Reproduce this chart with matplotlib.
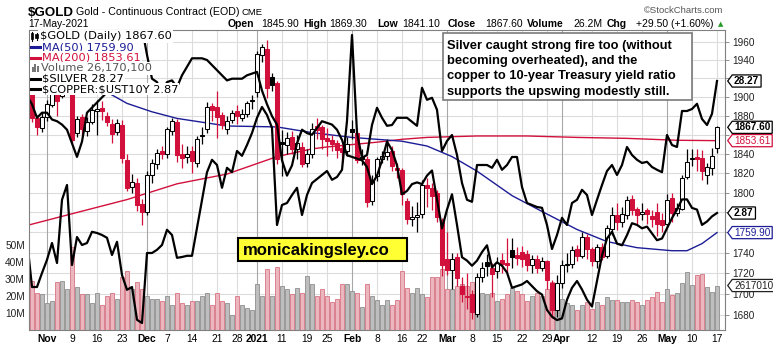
import matplotlib
matplotlib.use('Agg')
import matplotlib.pyplot as plt
from matplotlib.lines import Line2D
from matplotlib.patches import Rectangle
from matplotlib.path import Path
from matplotlib.ticker import FixedLocator, NullLocator, FuncFormatter
import numpy as np

# ---- $GOLD daily bars, 27-Oct-2020 .. 17-May-2021 ----
prior_close = 1902.0
opens = [1903, 1906, 1877, 1867, 1878, 1891, 1906, 1901, 1946, 1956,
         1862, 1879, 1864, 1873, 1885, 1888, 1880, 1871, 1863, 1870,
         1833, 1806, 1810, 1789, 1780, 1818, 1829, 1843, 1840, 1864,
         1873, 1840, 1837, 1843, 1830, 1859, 1866, 1890, 1889, 1881,
         1866, 1875, 1885, 1877, 1882, 1897, 1905, 1945, 1952, 1921,
         1915, 1852, 1849, 1857, 1845, 1847, 1830, 1840, 1869, 1868,
         1856, 1854, 1851, 1846, 1843, 1866, 1862, 1837, 1834, 1792,
         1817, 1834, 1838, 1843, 1825, 1823, 1792, 1773, 1775, 1778,
         1808, 1805, 1800, 1772, 1734, 1723, 1736, 1708, 1697, 1700,
         1681, 1716, 1731, 1725, 1722, 1733, 1730, 1743, 1738, 1741,
         1739, 1728, 1734, 1725, 1732, 1711, 1685, 1711, 1728, 1729,
         1744, 1737, 1756, 1744, 1732, 1746, 1737, 1763, 1777, 1770,
         1777, 1794, 1783, 1778, 1782, 1776, 1780, 1772, 1768, 1795,
         1779, 1783, 1816, 1834, 1836, 1836, 1818, 1825, 1845.9]
highs = [1912, 1910, 1881, 1884, 1897, 1913, 1915, 1950, 1965, 1966,
         1880, 1882, 1878, 1892, 1897, 1896, 1884, 1876, 1876, 1875,
         1840, 1819, 1815, 1794, 1822, 1834, 1845, 1848, 1868, 1877,
         1876, 1850, 1848, 1848, 1858, 1868, 1894, 1893, 1906, 1884,
         1880, 1886, 1891, 1887, 1895, 1902, 1950, 1958, 1962, 1926,
         1917, 1865, 1863, 1864, 1860, 1852, 1845, 1872, 1877, 1870,
         1867, 1860, 1854, 1850, 1857, 1875, 1864, 1845, 1838, 1818,
         1837, 1843, 1855, 1848, 1830, 1825, 1795, 1787, 1791, 1813,
         1815, 1810, 1803, 1774, 1760, 1740, 1740, 1716, 1720, 1704,
         1720, 1731, 1739, 1730, 1736, 1740, 1755, 1755, 1746, 1747,
         1743, 1738, 1738, 1736, 1733, 1713, 1718, 1733, 1740, 1747,
         1748, 1760, 1759, 1746, 1749, 1750, 1767, 1786, 1790, 1785,
         1797, 1798, 1785, 1790, 1784, 1782, 1790, 1779, 1799, 1800,
         1790, 1818, 1845, 1845, 1845, 1844, 1830, 1846, 1869.3]
lows = [1895, 1873, 1859, 1863, 1874, 1889, 1880, 1899, 1935, 1850,
        1857, 1858, 1858, 1871, 1860, 1875, 1869, 1851, 1860, 1830,
        1802, 1800, 1781, 1767, 1777, 1810, 1824, 1834, 1836, 1860,
        1831, 1825, 1830, 1820, 1826, 1850, 1862, 1874, 1856, 1866,
        1861, 1872, 1871, 1874, 1879, 1887, 1900, 1938, 1899, 1906,
        1829, 1817, 1840, 1840, 1835, 1826, 1826, 1836, 1855, 1845,
        1838, 1843, 1836, 1830, 1838, 1855, 1830, 1828, 1785, 1788,
        1812, 1830, 1833, 1822, 1815, 1788, 1768, 1766, 1760, 1774,
        1785, 1782, 1770, 1717, 1718, 1705, 1708, 1692, 1686, 1676,
        1678, 1712, 1717, 1697, 1715, 1720, 1720, 1725, 1728, 1726,
        1722, 1720, 1720, 1722, 1705, 1677, 1678, 1706, 1721, 1725,
        1732, 1735, 1734, 1727, 1725, 1733, 1735, 1758, 1762, 1765,
        1773, 1777, 1768, 1772, 1768, 1765, 1757, 1760, 1765, 1770,
        1776, 1782, 1814, 1827, 1822, 1813, 1809, 1818, 1841.1]
closes = [1908, 1877, 1868, 1879, 1892, 1910, 1896, 1946, 1951, 1854,
          1876, 1866, 1873, 1886, 1887, 1885, 1873, 1861, 1872, 1836,
          1805, 1811, 1788, 1780, 1818, 1830, 1841, 1840, 1866, 1874,
          1839, 1836, 1840, 1832, 1855, 1858, 1889, 1886, 1878, 1870,
          1874, 1883, 1880, 1882, 1893, 1895, 1946, 1954, 1909, 1913,
          1835, 1850, 1856, 1845, 1851, 1829, 1840, 1866, 1865, 1855,
          1853, 1850, 1844, 1842, 1850, 1863, 1833, 1835, 1791, 1813,
          1834, 1838, 1842, 1827, 1823, 1799, 1773, 1775, 1777, 1808,
          1805, 1797, 1775, 1728, 1723, 1734, 1715, 1700, 1698, 1683,
          1716, 1725, 1727, 1719, 1730, 1729, 1728, 1736, 1735, 1734,
          1728, 1734, 1725, 1732, 1713, 1685, 1711, 1728, 1729, 1743,
          1737, 1756, 1744, 1732, 1746, 1736, 1764, 1777, 1770, 1778,
          1793, 1782, 1777, 1780, 1778, 1773, 1768, 1767, 1793, 1779,
          1784, 1815, 1831, 1836, 1835, 1822, 1826, 1838, 1867.6]
volume_m = [15, 29, 22, 21, 16, 17, 28.5, 29, 24, 49,
            25.5, 21, 21, 16, 22, 15, 20, 22, 18, 31,
            35, 24, 28, 24, 20, 18, 18, 17, 20, 15,
            22, 16, 15, 17, 17, 20, 22, 15, 22, 17,
            16, 9, 20, 15, 13, 12, 27, 20, 36, 20,
            37, 26, 24, 21, 25, 22, 32, 27, 20, 24,
            20, 16.5, 18.5, 27, 27, 23, 22, 13.5, 27, 20,
            17.5, 14.6, 17.5, 14.6, 17.5, 35, 25, 22, 25, 21,
            19.5, 31, 31, 36, 24, 24, 26, 27, 26, 28,
            22, 22, 21, 22, 17, 18, 21, 25, 23, 21,
            17, 20, 22, 20, 24, 28, 15, 18, 16, 14.6,
            11.7, 14.6, 16.6, 12.6, 16.6, 14.6, 19.5, 17.5, 17.5, 16.6,
            16.6, 17.5, 16.6, 14.6, 17.5, 19.5, 22.5, 16.6, 24.4, 20.5,
            21.5, 27.4, 34.2, 26.4, 32.3, 33.2, 25.4, 22.5, 26.1701]

# ---- overlays ----
silver = [24.30, 23.12, 23.12, 23.47, 23.80, 24.22, 23.72, 25.30, 25.67, 23.67,
          24.37, 24.17, 24.22, 24.50, 24.47, 24.42, 24.35, 23.92, 24.25, 23.42,
          23.05, 23.12, 22.30, 22.22, 23.97, 23.97, 24.05, 24.17, 24.55, 24.42,
          23.85, 23.87, 23.90, 23.90, 24.60, 25.30, 25.99, 26.30, 26.17, 25.60,
          26.10, 25.99, 26.52, 26.40, 26.67, 26.97, 27.35, 27.62, 27.42, 27.10,
          24.67, 25.17, 25.22, 25.42, 25.60, 24.92, 25.42, 25.72, 25.82, 25.92,
          26.02, 25.80, 25.87, 26.05, 27.27, 29.42, 26.97, 26.35, 26.42, 27.17,
          27.60, 27.35, 27.15, 27.17, 27.35, 27.35, 27.35, 27.25, 27.15, 28.10,
          27.80, 27.85, 27.55, 26.52, 26.77, 26.92, 26.42, 25.72, 25.30, 25.25,
          26.17, 26.17, 26.17, 26.10, 26.30, 26.05, 26.17, 26.37, 26.37, 25.62,
          25.22, 25.17, 25.12, 25.10, 24.67, 24.07, 24.42, 24.85, 24.67, 25.22,
          25.30, 25.55, 25.42, 24.92, 25.30, 25.67, 26.02, 26.17, 25.92, 26.17,
          26.62, 26.42, 26.30, 26.22, 26.25, 26.12, 26.05, 25.99, 26.92, 26.67,
          26.62, 27.52, 27.52, 27.57, 27.70, 27.32, 27.17, 27.45, 28.27]
copper_ust10y = [3.56, 3.51, 3.43, 3.46, 3.46, 3.42, 3.41, 3.39, 3.36, 3.28,
                 3.20, 3.29, 3.46, 3.49, 3.52, 3.55, 3.58, 3.70, 3.77, 3.83,
                 3.88, 3.95, 3.97, 3.96, 3.80, 3.66, 3.64, 3.58, 3.64, 3.65,
                 3.61, 3.68, 3.73, 3.78, 3.78, 3.78, 3.77, 3.74, 3.71, 3.68,
                 3.65, 3.66, 3.66, 3.66, 3.68, 3.69, 3.70, 3.59, 3.51, 3.44,
                 3.39, 3.18, 3.09, 3.15, 3.28, 3.36, 3.34, 3.33, 3.37, 3.41,
                 3.40, 3.39, 3.36, 3.30, 3.21, 3.20, 3.19, 3.18, 3.14, 3.04,
                 3.09, 3.18, 3.29, 3.24, 3.15, 2.98, 3.00, 3.04, 3.05, 3.04,
                 3.09, 3.12, 2.95, 2.78, 2.89, 2.98, 2.80, 2.61, 2.59, 2.56,
                 2.59, 2.64, 2.68, 2.55, 2.58, 2.56, 2.52, 2.43, 2.44, 2.45,
                 2.47, 2.44, 2.41, 2.39, 2.30, 2.26, 2.24, 2.25, 2.36, 2.43,
                 2.47, 2.42, 2.36, 2.32, 2.47, 2.62, 2.72, 2.76, 2.69, 2.68,
                 2.74, 2.81, 2.80, 2.78, 2.79, 2.75, 2.71, 2.72, 2.78, 2.84,
                 2.89, 2.95, 2.95, 2.90, 2.89, 2.80, 2.82, 2.85, 2.87]

ma50_day = [0, 10, 16, 20, 25, 30, 40, 50, 57, 65, 75, 80, 85, 90, 97, 103,
            110, 116, 122, 129, 132, 135, 138]
ma50 = [1918, 1913, 1905, 1893, 1884, 1877, 1869, 1868, 1862, 1857, 1853,
        1848, 1837, 1822, 1797, 1781, 1763, 1751, 1745, 1742, 1742, 1749, 1759.90]
ma200_day = [0, 10, 20, 25, 30, 40, 50, 57, 60, 70, 75, 80, 90, 100, 110,
             120, 130, 138]
ma200 = [1767, 1780, 1793, 1801, 1809, 1819, 1837, 1845, 1847, 1852, 1855,
         1857, 1858.5, 1858.5, 1857, 1856, 1854, 1853.61]

tick_day = [4, 9, 14, 19, 24, 28, 33, 38, 42, 46, 51, 56, 60, 65, 70, 75, 79,
            84, 89, 94, 99, 104, 107, 113, 118, 123, 128, 133, 138]
tick_text = ['Nov', '9', '16', '23', 'Dec', '7', '14', '21', '28', '2021', '11',
             '19', '25', 'Feb', '8', '16', '22', 'Mar', '8', '15', '22', '29',
             'Apr', '12', '19', '26', 'May', '10', '17']
month_text = {'Nov', 'Dec', '2021', 'Feb', 'Mar', 'Apr', 'May'}
price_ticks = list(range(1680, 1961, 20))
hidden_price_labels = {1920, 1860, 1780, 1760}   # sit under the value tags
vol_ticks = [10, 20, 30, 40, 50]

RED = '#d2103c'
NAVY = '#1c1c96'
SANS = 'Liberation Sans'

W, H = 773, 346
fig = plt.figure(figsize=(W / 100, H / 100), dpi=100)
fig.patch.set_facecolor('white')


def fx(px):
    return px / W


def fy(py):
    return 1 - py / H


rect = [fx(29), fy(330), fx(725) - fx(29), fy(30) - fy(330)]
XLIM = (0.4, 139.6)
PRICE_LIM = (1665.8, 1973.0)

# base axes: grid and price scale on the right
ax = fig.add_axes(rect)
ax.set_yscale('log')
ax.set_ylim(*PRICE_LIM)
ax.set_xlim(*XLIM)
ax.yaxis.set_major_locator(FixedLocator(price_ticks))
ax.yaxis.set_minor_locator(NullLocator())
ax.yaxis.set_major_formatter(FuncFormatter(
    lambda v, _: '' if round(v) in hidden_price_labels else f'{v:.0f}'))
ax.yaxis.tick_right()
ax.tick_params(axis='y', length=3, width=0.6, color='#808080', pad=2,
               labelsize=7.2, labelcolor='#222222', labelfontfamily=SANS)
ax.set_xticks(tick_day)
ax.set_xticklabels(tick_text)
ax.tick_params(axis='x', length=0, pad=3, labelsize=7.4, labelfontfamily=SANS)
for lbl in ax.get_xticklabels():
    if lbl.get_text() in month_text:
        lbl.set_fontweight('bold')
for s in ax.spines.values():
    s.set_visible(False)
for p in price_ticks:
    ax.axhline(p, color='#dcdcdc', lw=0.8, zorder=0)
for d, t in zip(tick_day, tick_text):
    ax.axvline(d, color='#a8a8a8' if t in month_text else '#dcdcdc', lw=0.8, zorder=0)


def layer():
    a = fig.add_axes(rect, sharex=ax)
    a.patch.set_visible(False)
    for s in a.spines.values():
        s.set_visible(False)
    a.tick_params(left=False, right=False, bottom=False, top=False,
                  labelleft=False, labelright=False, labelbottom=False)
    return a


x = np.arange(len(closes))
o = np.array(opens, float)
hi = np.array(highs, float)
lo = np.array(lows, float)
c = np.array(closes, float)
prev = np.r_[prior_close, c[:-1]]
down = c < prev

# volume
ax_v = layer()
ax_v.set_ylim(0, 176.5)
vface = np.where(down, '#ebb6bd', '#bebebe')
vedge = np.where(down, '#d77383', '#8e8e8e')
ax_v.bar(x, volume_m, width=0.92, color=vface, edgecolor=vedge, linewidth=0.6)
ax_v.yaxis.set_major_locator(FixedLocator(vol_ticks))
ax_v.yaxis.set_major_formatter(FuncFormatter(lambda v, _: f'{v:.0f}M'))
ax_v.tick_params(axis='y', labelleft=True, length=0, pad=3, labelsize=7.3,
                 labelcolor='#222222', labelfontfamily=SANS)

# candles and moving averages
ax_p = layer()
ax_p.set_yscale('log')
ax_p.set_ylim(*PRICE_LIM)
ax_p.yaxis.set_minor_locator(NullLocator())
ax_p.tick_params(which='both', left=False, right=False, labelleft=False, labelright=False)
ax_p.plot(ma200_day, ma200, color=RED, lw=1.0, zorder=1)
ax_p.plot(ma50_day, ma50, color=NAVY, lw=1.0, zorder=1)
col = np.where(down, RED, 'black')
ax_p.vlines(x, lo, hi, colors=col, lw=0.9, zorder=2)
body_lo = np.minimum(o, c)
body_hi = np.maximum(np.maximum(o, c), body_lo * 1.0007)
face = np.where(c >= o, 'white', col)
ax_p.bar(x, body_hi - body_lo, bottom=body_lo, width=0.74, color=face,
         edgecolor=col, linewidth=0.75, zorder=3)

# silver and copper / 10y yield overlays
ax_ag = layer()
ax_ag.set_ylim(22.045, 29.545)
ax_ag.plot(x, silver, color='black', lw=1.6, solid_joinstyle='round')
ax_cu = layer()
ax_cu.set_ylim(2.1818, 3.9465)
ax_cu.plot(x, copper_ust10y, color='black', lw=1.6, solid_joinstyle='round')
for s in ax_cu.spines.values():
    s.set_visible(True)
    s.set_color('#808080')
    s.set_linewidth(0.8)


def tag_box(x0, y0, width, height, mutation_size):
    pad = 0.18 * mutation_size
    tip = 0.45 * mutation_size
    x0, x1 = x0 - pad, x0 + width + pad
    y0, y1 = y0 - pad * 0.6, y0 + height + pad * 0.6
    ym = (y0 + y1) / 2
    return Path([(x0, y0), (x1, y0), (x1, y1), (x0, y1), (x0 - tip, ym), (x0, y0)],
                closed=True)


def value_tag(a, val, text, color, bold):
    a.annotate(text, xy=(1, val), xycoords=('axes fraction', 'data'),
               xytext=(6.5, 0), textcoords='offset points', va='center', ha='left',
               fontsize=7.2, family=SANS, fontweight='bold' if bold else 'normal',
               color=color, zorder=10, annotation_clip=False,
               bbox=dict(boxstyle=tag_box, facecolor='white', edgecolor=color, lw=0.9))


value_tag(ax_ag, silver[-1], f'{silver[-1]:.2f}', 'black', True)
value_tag(ax_p, closes[-1], f'{closes[-1]:.2f}', 'black', True)
value_tag(ax_p, ma200[-1], f'{ma200[-1]:.2f}', RED, False)
value_tag(ax_cu, copper_ust10y[-1], f'{copper_ust10y[-1]:.2f}', 'black', True)
value_tag(ax_p, ma50[-1], f'{ma50[-1]:.2f}', NAVY, False)
value_tag(ax_v, volume_m[-1], f'{volume_m[-1] * 1e6:.0f}', '#222222', False)

# legend block
fig.add_artist(Rectangle((fx(29.6), fy(95)), fx(40) - fx(29.6), fy(30.6) - fy(95),
                         transform=fig.transFigure, facecolor='white',
                         edgecolor='none', zorder=2.5))
legend_rows = [
    ('$GOLD (Daily) 1867.60', 'black', 39.5, 39.3),
    ('MA(50) 1759.90', NAVY, 41.5, 50.0),
    ('MA(200) 1853.61', RED, 41.5, 60.6),
    ('Volume 26,170,100', '#555555', 41.0, 71.2),
    ('$SILVER 28.27', 'black', 41.5, 81.8),
    ('$COPPER:$UST10Y 2.87', 'black', 41.5, 92.0),
]
for txt, colr, tx, ty in legend_rows:
    fig.text(fx(tx), fy(ty), txt, color=colr, fontsize=8.2, family='DejaVu Sans',
             va='baseline', ha='left', zorder=3, parse_math=False,
             bbox=dict(boxstyle='square,pad=0.12', facecolor='white', edgecolor='none'))
for colr, ty in [(NAVY, 47.0), (RED, 57.6), ('black', 78.8), ('black', 89.0)]:
    fig.add_artist(Line2D([fx(31), fx(40)], [fy(ty), fy(ty)], color=colr, lw=2.2,
                          transform=fig.transFigure, zorder=5))
# small candle icon and volume icon
for bx, top, bot in [(32.0, 33, 39), (36.5, 34, 38)]:
    fig.add_artist(Line2D([fx(bx), fx(bx)], [fy(top - 1.5), fy(bot + 1.5)], color='black',
                          lw=0.8, transform=fig.transFigure, zorder=5))
    fig.add_artist(Rectangle((fx(bx - 1.2), fy(bot)), fx(2.4), fy(top) - fy(bot),
                             transform=fig.transFigure, facecolor='black',
                             edgecolor='black', lw=0.5, zorder=5))
for bx, bh in [(31.5, 5), (34.0, 8), (36.5, 6)]:
    fig.add_artist(Rectangle((fx(bx), fy(72)), fx(2.0), fy(72 - bh) - fy(72),
                             transform=fig.transFigure, facecolor='#777777',
                             edgecolor='none', zorder=5))

# header
fig.text(fx(28), fy(15.5), '$GOLD', fontsize=9.6, fontweight='bold', family=SANS,
         va='baseline', parse_math=False)
fig.text(fx(76), fy(15.2), 'Gold - Continuous Contract (EOD)', fontsize=7.7,
         family=SANS, va='baseline')
fig.text(fx(242), fy(15.2), 'CME', fontsize=6.8, family=SANS, va='baseline')
fig.text(fx(28), fy(26.8), '17-May-2021', fontsize=7.4, family=SANS, va='baseline')
fig.text(fx(723), fy(12.7), '\u00a9StockCharts.com', fontsize=6.8, family=SANS,
         color='#555555', va='baseline', ha='right')
header = [(228, 'Open', True), (261, '1845.90', False), (303, 'High', True),
          (329, '1869.30', False), (377, 'Low', True), (402, '1841.10', False),
          (448, 'Close', True), (485, '1867.60', False), (527, 'Volume', True),
          (573, '26.2M', False), (607, 'Chg', True)]
for hx, txt, bold in header:
    fig.text(fx(hx), fy(26.8), txt, fontsize=7.5, family=SANS, va='baseline',
             fontweight='bold' if bold else 'normal')
fig.text(fx(714), fy(26.8), '+29.50 (+1.60%)', fontsize=7.5, family=SANS,
         va='baseline', ha='right')
fig.text(fx(717.5), fy(26.0), '\u25b2', fontsize=5, color='#2a9a2a',
         family='DejaVu Sans', va='baseline')

# comment box
fig.add_artist(Rectangle((fx(443), fy(100)), fx(692) - fx(443), fy(33) - fy(100),
                         transform=fig.transFigure, facecolor='white',
                         edgecolor='#7a7a7a', lw=1.2, zorder=6))
note_lines = ['Silver caught strong fire too (without',
              'becoming overheated), and the',
              'copper to 10-year Treasury yield ratio',
              'supports the upswing modestly still.']
for ln, by in zip(note_lines, [48.5, 64.0, 79.3, 94.5]):
    fig.text(fx(447), fy(by), ln, fontsize=9.3, fontweight='bold', family=SANS,
             va='baseline', zorder=7)

# site badge
fig.add_artist(Rectangle((fx(238), fy(261)), fx(407) - fx(238), fy(238) - fy(261),
                         transform=fig.transFigure, facecolor='#ffff33',
                         edgecolor='black', lw=1.5, zorder=6))
fig.text(fx(243), fy(255.5), 'monicakingsley.co', fontsize=12.0, fontweight='bold',
         family=SANS, va='baseline', zorder=7)

fig.savefig('out.png', dpi=100)
plt.close(fig)
